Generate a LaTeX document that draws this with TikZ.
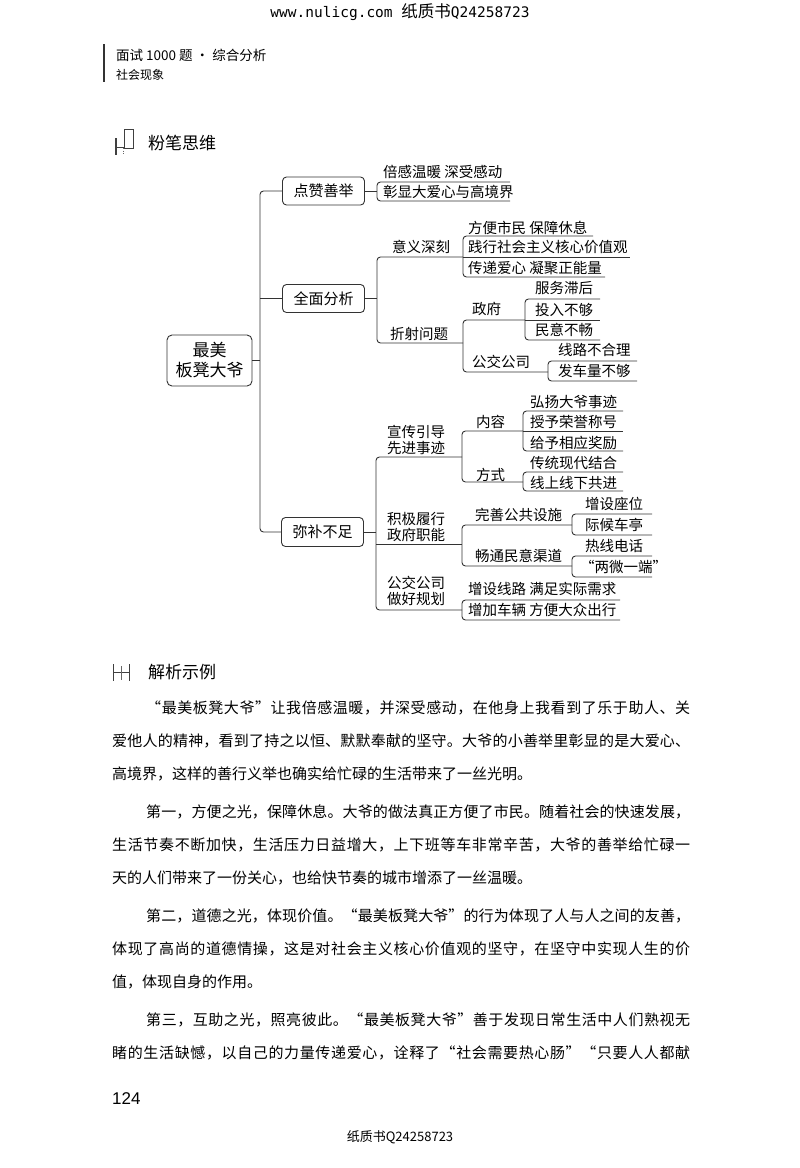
\documentclass[tikz,border=0pt]{standalone}
\usepackage{fontspec}
\setmainfont{Noto Sans CJK SC}
\newfontfamily\monof{DejaVu Sans Mono}
\newfontfamily\arialf{Liberation Sans}
\def\jloop#1{#1\futurelet\jnext\jcheck}
\def\jcheck{\ifx\jnext\relax\expandafter\jend\else\hfil\expandafter\jloop\fi}
\def\jend\relax{}
\newcommand\jline[2]{\hbox to #1{\jloop#2\relax}}
\newcommand\fs[1]{\fontsize{#1}{#1}\selectfont}
\begin{document}
\begin{tikzpicture}[x=1pt,y=-1pt,
  ln/.style={line width=0.9pt, draw=black!80},
  br/.style={ln, rounded corners=3.5pt},
  bx/.style={draw=black!80, line width=0.9pt, rounded corners=4pt, minimum width=82pt, minimum height=28pt, inner sep=0pt, font=\fs{15}},
  tx/.style={anchor=west, inner sep=0pt, font=\fs{14.5}},
  tx2/.style={anchor=west, inner sep=0pt, align=left, font=\fontsize{14.5}{16.5}\selectfont},
  bd/.style={anchor=west, inner sep=0pt, font=\fs{15}},
  hd/.style={anchor=west, inner sep=0pt, font=\fs{17}}]
\fill[white] (0,0) rectangle (800,1168);
\useasboundingbox (0,0) rectangle (800,1168);

% ---------- header ----------
\node (hdr) at (400,12) {{\monof\fs{14.5}www.nulicg.com }{\fs{16.5}纸质书}{\monof\fs{14.5}Q24258723}};
\draw[line width=1.4pt, black!80] (104,44) -- (104,82);
\node[anchor=west, inner sep=0pt, font=\fs{13.5}] (book) at (116,55) {面试 1000 题 · 综合分析};
\node[anchor=west, inner sep=0pt, font=\fs{12}] (chap) at (116,75) {社会现象};

% ---------- icon 1 + title ----------
\draw[line width=0.7pt, black!75] (124,129) rectangle (133,148);
\draw[line width=1.6pt, black!75] (116,138) -- (116,155);
\draw[line width=0.8pt, black!75] (116,147.5) -- (124,147.5);
\draw[line width=0.7pt, black!60, dotted] (123,148) -- (123,155);
\node[hd] (t1) at (148,143) {粉笔思维};

% ---------- mind map ----------
\node[draw=black!80, line width=0.9pt, rounded corners=5pt, minimum width=85pt, minimum height=51pt, inner sep=0pt, align=center, font=\fontsize{17}{20}\selectfont] (root) at (209.5,360.5) {最美\\板凳大爷};
\node[bx] (b1) at (323.5,191) {点赞善举};
\node[bx] (b2) at (323.5,298.5) {全面分析};
\node[bx, minimum height=29pt] (b3) at (322.5,532) {弥补不足};
\draw[br] (b1.west) -- (260,191) -- (260,532) -- (b3.west);
\draw[ln] (b2.west) -- (260,298.5);
\draw[ln] (root.east) -- (260,360.5);

% group A
\draw[ln] (b1.east) -- (377,191);
\draw[br] (510,182) -- (377,182) -- (377,201) -- (510,201);
\node[tx] (a1) at (383,172) {倍感温暖 深受感动};
\node[tx] (a2) at (383,192) {彰显大爱心与高境界};

% group B
\draw[ln] (b2.east) -- (377,298.5);
\draw[br] (463,257) -- (377,257) -- (377,343) -- (463,343);
\node[tx] (m1) at (392,247) {意义深刻};
\node[tx] (m2) at (390,334) {折射问题};
\draw[br] (593,236) -- (463,236) -- (463,277) -- (605,277);
\draw[ln] (463,257) -- (630,257);
\node[tx] (m11) at (468,228) {方便市民 保障休息};
\node[tx] (m12) at (468,247) {践行社会主义核心价值观};
\node[tx] (m13) at (468,268) {传递爱心 凝聚正能量};
\draw[br] (525,320) -- (463,320) -- (463,372) -- (548,372);
\node[tx] (m21) at (472,309) {政府};
\node[tx] (m22) at (472,362) {公交公司};
\draw[br] (600,299) -- (525,299) -- (525,340) -- (600,340);
\draw[ln] (525,320) -- (600,320);
\node[tx] (m211) at (535,288) {服务滞后};
\node[tx] (m212) at (535,310) {投入不够};
\node[tx] (m213) at (535,330) {民意不畅};
\draw[br] (637,361) -- (548,361) -- (548,381) -- (637,381);
\node[tx] (m221) at (558,350) {线路不合理};
\node[tx] (m222) at (558,371) {发车量不够};

% group C
\draw[ln] (b3.east) -- (376,532);
\draw[br] (462,457) -- (376,457) -- (376,610) -- (462,610);
\draw[ln] (376,544) -- (462,544);
\node[tx2] (c1) at (387,440) {宣传引导\\先进事迹};
\node[tx2] (c2) at (387,527) {积极履行\\政府职能};
\node[tx2] (c3) at (387,591) {公交公司\\做好规划};
\draw[br] (523,431) -- (462,431) -- (462,482) -- (523,482);
\node[tx] (c11) at (476,422) {内容};
\node[tx] (c12) at (476,475) {方式};
\draw[br] (623,411) -- (523,411) -- (523,451) -- (623,451);
\draw[ln] (523,431) -- (623,431);
\node[tx] (c111) at (530,402) {弘扬大爷事迹};
\node[tx] (c112) at (530,422) {授予荣誉称号};
\node[tx] (c113) at (530,443) {给予相应奖励};
\draw[br] (623,472) -- (523,472) -- (523,491) -- (623,491);
\node[tx] (c121) at (530,463) {传统现代结合};
\node[tx] (c122) at (530,483) {线上线下共进};
\draw[br] (572,525) -- (462,525) -- (462,566) -- (572,566);
\node[tx] (c21) at (475,515) {完善公共设施};
\node[tx] (c22) at (475,556) {畅通民意渠道};
\draw[br] (652,514) -- (572,514) -- (572,535) -- (652,535);
\node[tx] (c211) at (585,504) {增设座位};
\node[tx] (c212) at (585,525) {际候车亭};
\draw[br] (652,556) -- (572,556) -- (572,577) -- (652,577);
\node[tx] (c221) at (585,546) {热线电话};
\node[tx] (c222) at (580,567) {“两微一端”};
\draw[br] (620,600) -- (462,600) -- (462,620) -- (620,620);
\node[tx] (c31) at (468,589) {增设线路 满足实际需求};
\node[tx] (c32) at (468,610) {增加车辆 方便大众出行};

% ---------- icon 2 + title ----------
\draw[line width=0.9pt, black!75] (113,664) -- (113,681);
\draw[line width=0.9pt, black!75] (129,664) -- (129,681);
\draw[line width=0.9pt, black!75] (113,672.5) -- (129,672.5);
\draw[line width=0.7pt, black!60] (121,666) -- (121,680);
\node[hd] (t2) at (148,672) {解析示例};

% ---------- body text ----------
\node[bd] (p11) at (146,708) {\jline{544pt}{“最美板凳大爷”让我倍感温暖，并深受感动，在他身上我看到了乐于助人、关}};
\node[bd] (p12) at (112,741) {\jline{578pt}{爱他人的精神，看到了持之以恒、默默奉献的坚守。大爷的小善举里彰显的是大爱心、}};
\node[bd] (p13) at (112,774) {高境界，这样的善行义举也确实给忙碌的生活带来了一丝光明。};
\node[bd] (p21) at (146,812) {\jline{544pt}{第一，方便之光，保障休息。大爷的做法真正方便了市民。随着社会的快速发展，}};
\node[bd] (p22) at (112,845) {\jline{578pt}{生活节奏不断加快，生活压力日益增大，上下班等车非常辛苦，大爷的善举给忙碌一}};
\node[bd] (p23) at (112,878) {天的人们带来了一份关心，也给快节奏的城市增添了一丝温暖。};
\node[bd] (p31) at (146,916) {\jline{544pt}{第二，道德之光，体现价值。“最美板凳大爷”的行为体现了人与人之间的友善，}};
\node[bd] (p32) at (112,949) {\jline{578pt}{体现了高尚的道德情操，这是对社会主义核心价值观的坚守，在坚守中实现人生的价}};
\node[bd] (p33) at (112,982) {值，体现自身的作用。};
\node[bd] (p41) at (146,1020) {\jline{544pt}{第三，互助之光，照亮彼此。“最美板凳大爷”善于发现日常生活中人们熟视无}};
\node[bd] (p42) at (112,1053) {\jline{578pt}{睹的生活缺憾，以自己的力量传递爱心，诠释了“社会需要热心肠”“只要人人都献}};

% ---------- footer ----------
\node[anchor=west, inner sep=0pt, font=\arialf\fs{17}] (pg) at (112,1099) {124};
\node[inner sep=0pt, font=\fs{13}] (ft) at (400,1137) {纸质书Q24258723};
\end{tikzpicture}
\end{document}
